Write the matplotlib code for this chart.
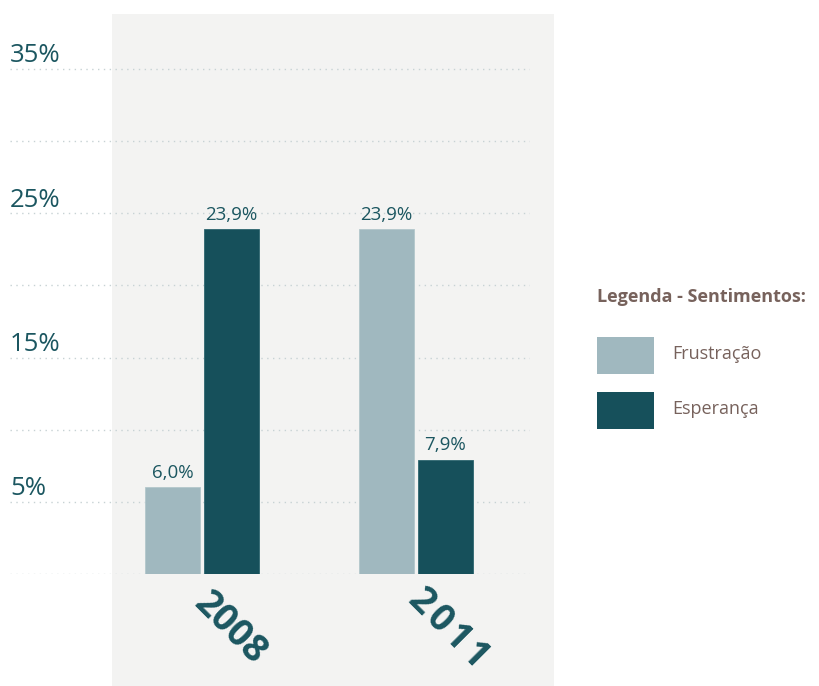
import matplotlib
matplotlib.use("Agg")
import matplotlib.pyplot as plt
from matplotlib.patches import Rectangle
import numpy as np

plt.rcParams['font.family'] = ['Open Sans', 'DejaVu Sans']

# Data
years = ["2008", "2011"]
frustracao = [6.0, 23.9]
esperanca = [23.9, 7.9]
series_names = ["Frustração", "Esperança"]
y_tick_values = [5, 15, 25, 35]
grid_values = [0, 5, 10, 15, 20, 25, 30, 35]

LIGHT = "#a0b8bf"
DARK = "#16505b"
TEXT_TEAL = "#1b5660"
LEGEND_BROWN = "#77625c"
PANEL = "#f3f3f2"
GRID = "#c7d2d4"

W, H = 820, 686
fig = plt.figure(figsize=(W / 100, H / 100), dpi=100)
fig.patch.set_facecolor("white")

# shaded plotting panel
fig.add_artist(Rectangle((112 / W, 0), 442 / W, 672 / H, transform=fig.transFigure,
                         facecolor=PANEL, edgecolor="none", zorder=0))

# axes geometry in pixels
ax_left, ax_right = 10, 530
y0_px, y35_px, top_px = 574, 69, 14
px_per_unit = (y0_px - y35_px) / 35.0
ax = fig.add_axes([ax_left / W, (H - y0_px) / H, (ax_right - ax_left) / W, (y0_px - top_px) / H])
ax.set_facecolor("none")
ax.set_ylim(0, (y0_px - top_px) / px_per_unit)

# x scale: group centres at 202 px and 416 px
cx0, cx1 = 202, 416
unit = cx1 - cx0
ax.set_xlim(-(cx0 - ax_left) / unit, 1 + (ax_right - cx1) / unit)

x = np.arange(len(years))
bw = 55 / unit
off = 29.5 / unit

for g in grid_values:
    ax.axhline(g, color=GRID, linestyle=(0, (1, 3.2)), linewidth=1.0, zorder=1)

b1 = ax.bar(x - off, frustracao, width=bw, color=LIGHT, edgecolor="#b3c7cc", linewidth=0.6, zorder=2)
b2 = ax.bar(x + off, esperanca, width=bw, color=DARK, edgecolor="#2d6670", linewidth=0.6, zorder=2)

def fmt(v):
    return f"{v:.1f}".replace(".", ",") + "%"

for bars, vals in ((b1, frustracao), (b2, esperanca)):
    for rect, v in zip(bars, vals):
        ax.annotate(fmt(v), (rect.get_x() + rect.get_width() / 2, v), xytext=(0, 4),
                    textcoords="offset points", ha="center", va="bottom",
                    fontsize=13.5, color=TEXT_TEAL, zorder=3)

# y labels sit just above their gridline
for v in y_tick_values:
    ax.annotate(f"{v}%", (ax.get_xlim()[0], v), xytext=(0, 0.5), textcoords="offset points",
                ha="left", va="bottom", fontsize=18.5, color=TEXT_TEAL)

# rotated year labels
year_text = {"2008": "2008", "2011": "2\u200a0\u200a1\u200a1"}
year_shift = {"2008": (20, -39), "2011": (23, -39)}
for xi, yr in zip(x, years):
    ax.annotate(year_text[yr], (xi, 0), xytext=year_shift[yr],
                textcoords="offset points", ha="center", va="center", rotation=-45,
                rotation_mode="anchor", fontsize=27, fontweight="bold", color=TEXT_TEAL)

ax.set_xticks([])
ax.set_yticks([])
for s in ax.spines.values():
    s.set_visible(False)

# legend
fig.text(597 / W, 1 - 297 / H, "Legenda - Sentimentos:", fontsize=13, fontweight="bold",
         color=LEGEND_BROWN, ha="left", va="center")
for i, (name, col) in enumerate(zip(series_names, [LIGHT, DARK])):
    top = 337 + i * 55
    fig.add_artist(Rectangle((597 / W, 1 - (top + 37) / H), 57 / W, 37 / H,
                             transform=fig.transFigure, facecolor=col, edgecolor="none"))
    fig.text(672 / W, 1 - (top + 17) / H, name, fontsize=13, color=LEGEND_BROWN,
             ha="left", va="center")

fig.savefig("out.png", dpi=100)
